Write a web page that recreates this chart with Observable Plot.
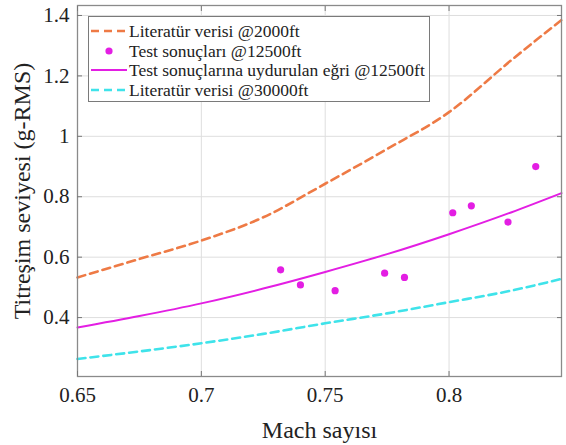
<!DOCTYPE html>
<html><head><meta charset="utf-8">
<script src="https://cdn.jsdelivr.net/npm/d3@7"></script>
<script src="https://cdn.jsdelivr.net/npm/@observablehq/plot@0.6"></script>
<style>
body{margin:0;background:#fff;}
#wrap{position:relative;width:566px;height:445px;font-family:"Liberation Serif",serif;}
#legend{position:absolute;left:88px;top:16px;width:342px;height:86px;border:1px solid #7a7a7a;background:#fff;box-sizing:border-box;font-size:17.5px;color:#222;}
.row{position:absolute;left:0;height:20px;width:340px;}
.row svg{position:absolute;left:2px;top:0;}
.row span{position:absolute;left:40px;top:0;line-height:20px;white-space:nowrap;}
</style></head><body><div id="wrap"><div id="legend"></div></div>
<script>
const xTicks = [0.65, 0.7, 0.75, 0.8];
const yTicks = [0.4, 0.6, 0.8, 1, 1.2, 1.4];
const machGrid = [0.65, 0.675, 0.7, 0.725, 0.75, 0.775, 0.8, 0.825, 0.8454];
const lit2000 = [0.533, 0.594, 0.655, 0.732, 0.843, 0.958, 1.080, 1.251, 1.385];
const fit12500 = [0.367, 0.405, 0.447, 0.496, 0.551, 0.610, 0.676, 0.748, 0.812];
const lit30000 = [0.263, 0.288, 0.315, 0.346, 0.381, 0.414, 0.451, 0.489, 0.528];
const testMach = [0.732, 0.740, 0.754, 0.774, 0.782, 0.8015, 0.809, 0.8238, 0.835];
const testVib = [0.558, 0.508, 0.489, 0.547, 0.533, 0.747, 0.770, 0.716, 0.900];
const seriesNames = ["Literatür verisi @2000ft", "Test sonuçları @12500ft", "Test sonuçlarına uydurulan eğri @12500ft", "Literatür verisi @30000ft"];
const colors = ["#ee7a45", "#e31ee3", "#e31ee3", "#3fe3ea"];

const toRows = ys => machGrid.map((m, i) => ({x: m, y: ys[i]}));
const pts = testMach.map((m, i) => ({x: m, y: testVib[i]}));

const chart = Plot.plot({
  width: 566, height: 445,
  marginLeft: 77, marginRight: 5, marginTop: 5, marginBottom: 69,
  style: {fontFamily: "Liberation Serif", color: "#222", background: "#fff"},
  x: {domain: [0.65, 0.8454], label: null},
  y: {domain: [0.205, 1.433], label: null},
  marks: [
    Plot.gridX(xTicks, {stroke: "#dedede", strokeOpacity: 1}),
    Plot.gridY(yTicks, {stroke: "#dedede", strokeOpacity: 1}),
    Plot.line(toRows(lit2000), {x: "x", y: "y", stroke: colors[0], strokeWidth: 2.6, strokeDasharray: "8,5", curve: "monotone-x"}),
    Plot.line(toRows(fit12500), {x: "x", y: "y", stroke: colors[2], strokeWidth: 2, curve: "monotone-x"}),
    Plot.line(toRows(lit30000), {x: "x", y: "y", stroke: colors[3], strokeWidth: 2.6, strokeDasharray: "8,5", curve: "monotone-x"}),
    Plot.dot(pts, {x: "x", y: "y", r: 3.6, fill: colors[1], stroke: null}),
    Plot.frame({stroke: "#8a8a8a", strokeWidth: 1.3}),
    Plot.axisX(xTicks, {anchor: "bottom", tickSize: -5, tickPadding: 16, fontSize: 21, tickFormat: d => String(d), stroke: "#777"}),
    Plot.axisX(xTicks, {anchor: "top", tickSize: -5, tickFormat: () => "", stroke: "#777", label: null}),
    Plot.axisY(yTicks, {anchor: "left", tickSize: -5, tickPadding: 13, fontSize: 21, tickFormat: d => String(d), stroke: "#777"}),
    Plot.axisY(yTicks, {anchor: "right", tickSize: -5, tickFormat: () => "", stroke: "#777", label: null}),
    Plot.text(["Mach sayısı"], {frameAnchor: "bottom", lineAnchor: "middle", textAnchor: "middle", dy: 54, text: d => d, fontSize: 24, fill: "#222"}),
    Plot.text(["Titreşim seviyesi (g-RMS)"], {frameAnchor: "left", textAnchor: "middle", lineAnchor: "middle", dx: -55, rotate: -90, text: d => d, fontSize: 24, fill: "#222"})
  ]
});
document.getElementById("wrap").prepend(chart);

const legend = document.getElementById("legend");
const rowTops = [4, 23.5, 43, 62.5];
seriesNames.forEach((name, i) => {
  const row = document.createElement("div");
  row.className = "row";
  row.style.top = rowTops[i] + "px";
  let sample;
  if (i === 1) sample = `<circle cx="18" cy="10" r="3.6" fill="${colors[i]}"/>`;
  else if (i === 2) sample = `<line x1="0" y1="10" x2="36" y2="10" stroke="${colors[i]}" stroke-width="2"/>`;
  else sample = `<line x1="0" y1="10" x2="36" y2="10" stroke="${colors[i]}" stroke-width="2.6" stroke-dasharray="8,5"/>`;
  row.innerHTML = `<svg width="36" height="20">${sample}</svg><span>${name}</span>`;
  legend.appendChild(row);
});
</script>
</body></html>
